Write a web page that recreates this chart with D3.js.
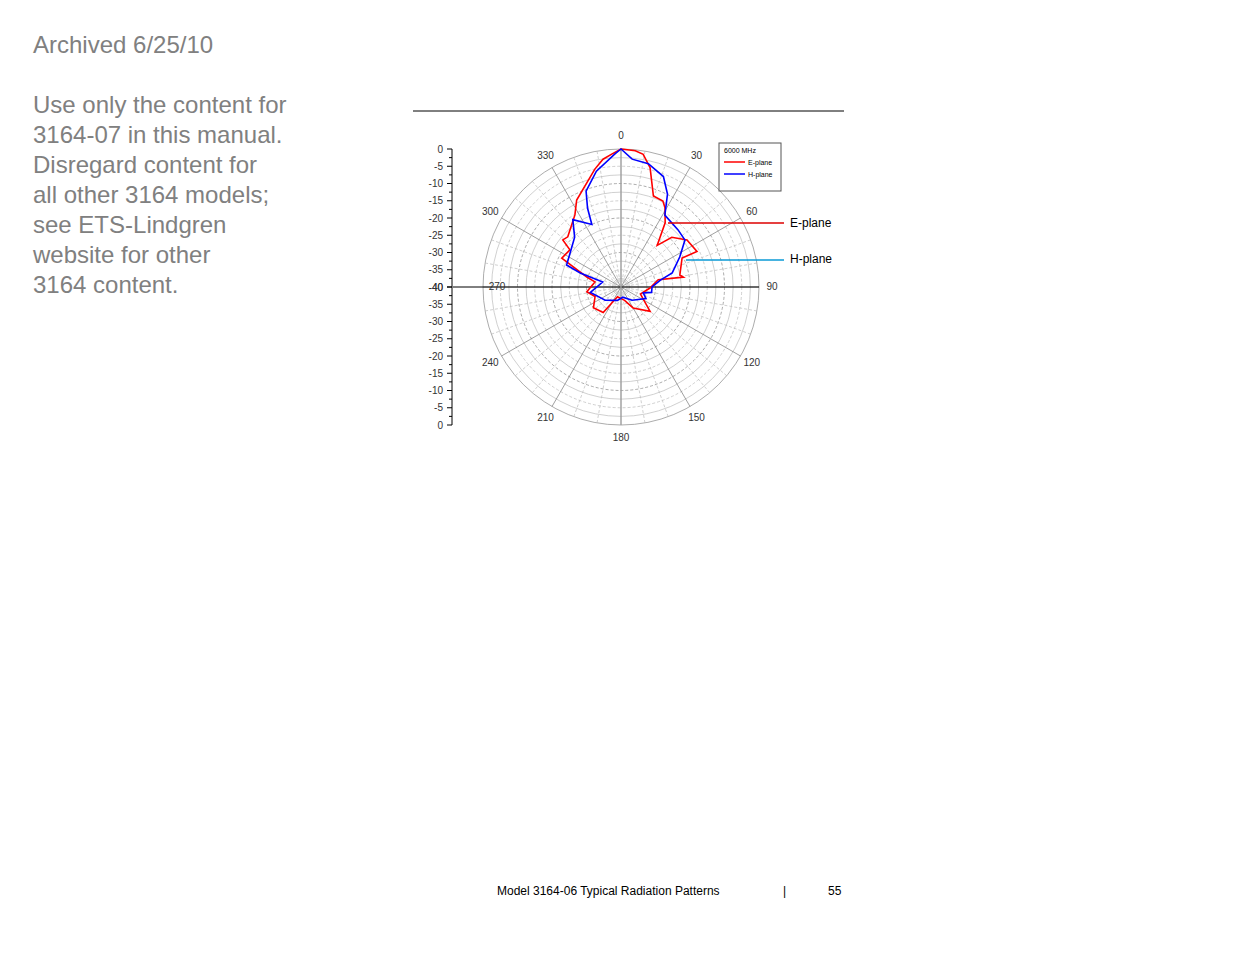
<!DOCTYPE html>
<html><head><meta charset="utf-8">
<script src="https://cdn.jsdelivr.net/npm/d3@7"></script>
<style>body{margin:0;background:#fff;font-family:"Liberation Sans",Arial,sans-serif}</style>
</head><body><svg id="c" width="1235" height="954"></svg>
<script>
const introLines=["Use only the content for","3164-07 in this manual.","Disregard content for","all other 3164 models;","see ETS-Lindgren","website for other","3164 content."];
const eAngles=[0,6,9.5,13.7,19.6,26,29,34.5,41,45.6,54.5,65,64.6,78.5,81,79,92,110,130,150,165,200,215,233,250,262,281,286,296,306,309,313.3,327.4,333,347.5,352,356];
const eDb=[0,-0.3,-1,-4.4,-12,-12.3,-13.7,-17.4,-24,-19.4,-16.5,-15.7,-20.4,-22.6,-21.7,-29,-31.6,-34,-29,-33,-36,-37,-31,-30,-32,-30,-32.3,-29.8,-20.9,-21.7,-18.3,-18.8,-15.2,-11.7,-5,-2.6,-1.4];
const hAngles=[0,5,12.5,21,26.6,31.4,45,53.7,63,74.6,80,90,100,105,115,140,170,195,230,260,285,289,292,317,324.4,335,337,340,348,357.4];
const hDb=[0,-2.8,-3.4,-5.7,-9.9,-15.6,-16.6,-17,-20.9,-24.6,-28.4,-31,-31,-33.3,-32,-35,-37,-36,-34,-31,-34.5,-27.5,-23,-20.3,-16,-20,-15.2,-10.4,-5.7,-1.4];
const dbTicks=[0,-5,-10,-15,-20,-25,-30,-35,-40];
const angTicks=[0,30,60,90,120,150,180,210,240,270,300,330];

const svg=d3.select("#c");
svg.append("text").attr("x",33).attr("y",53).attr("fill","#808080").attr("font-size",24).text("Archived 6/25/10");
introLines.forEach((t,i)=>svg.append("text").attr("x",33).attr("y",113+i*30).attr("fill","#808080").attr("font-size",24).text(t));
svg.append("line").attr("x1",413).attr("x2",844).attr("y1",111).attr("y2",111).attr("stroke","#000");
svg.append("text").attr("x",497).attr("y",895).attr("font-size",12).text("Model 3164-06 Typical Radiation Patterns");
svg.append("text").attr("x",783).attr("y",895).attr("font-size",12).text("|");
svg.append("text").attr("x",828).attr("y",895).attr("font-size",12).text("55");

const cx=621,cy=287,R=138;
const r=d3.scaleLinear().domain([-40,0]).range([0,R]);
const g=svg.append("g").attr("transform",`translate(${cx},${cy})`);
d3.range(-37.5,0.1,2.5).forEach(v=>g.append("circle").attr("r",r(v)).attr("fill","none")
  .attr("stroke",v%10===0?"#888":"#bbb").attr("stroke-width",0.7).attr("stroke-dasharray",v===0?null:(v%5===0?"3,2":null)));
d3.range(0,360,10).forEach(a=>{const t=a*Math.PI/180;
  g.append("line").attr("x1",0).attr("y1",0).attr("x2",R*Math.sin(t)).attr("y2",-R*Math.cos(t))
   .attr("stroke",a%30===0?"#777":"#bbb").attr("stroke-width",0.7).attr("stroke-dasharray",a%30===0?null:"3,2");});
g.append("line").attr("x1",-R-30).attr("x2",R).attr("y1",0).attr("y2",0).attr("stroke","#000").attr("stroke-width",1);
g.append("line").attr("x1",0).attr("x2",0).attr("y1",-R).attr("y2",R).attr("stroke","#aaa").attr("stroke-width",1.2);
angTicks.forEach(a=>{const t=a*Math.PI/180,rr=R+13;
  g.append("text").attr("x",(a===270?-R+14:rr*Math.sin(t))).attr("y",-rr*Math.cos(t)+3).attr("text-anchor","middle").attr("font-size",10).attr("fill","#333").text(a);});
// left axis
const ya=d3.scaleLinear().domain([0,-40]).range([cy-R,cy]);
const yb=d3.scaleLinear().domain([-40,0]).range([cy,cy+R]);
const ax=svg.append("g");
ax.append("line").attr("x1",452).attr("x2",452).attr("y1",cy-R).attr("y2",cy+R).attr("stroke","#000");
dbTicks.forEach(v=>{[ya(v),yb(v)].forEach(y=>{
  ax.append("line").attr("x1",447).attr("x2",452).attr("y1",y).attr("y2",y).attr("stroke","#000");
  ax.append("text").attr("x",443).attr("y",y+3.5).attr("text-anchor","end").attr("font-size",10).attr("fill","#333").text(v);});});
d3.range(-37.5,0,5).forEach(v=>[ya(v),yb(v)].forEach(y=>ax.append("line").attr("x1",449).attr("x2",452).attr("y1",y).attr("y2",y).attr("stroke","#000")));
const line=d3.lineRadial().angle(d=>d[0]*Math.PI/180).radius(d=>r(d[1])).curve(d3.curveLinearClosed);
g.append("path").attr("d",line(eAngles.map((a,i)=>[a,eDb[i]]))).attr("fill","none").attr("stroke","#f00").attr("stroke-width",1.6);
g.append("path").attr("d",line(hAngles.map((a,i)=>[a,hDb[i]]))).attr("fill","none").attr("stroke","#00f").attr("stroke-width",1.6);
// legend
svg.append("rect").attr("x",719).attr("y",143).attr("width",62).attr("height",48).attr("fill","#fff").attr("stroke","#555");
svg.append("text").attr("x",724).attr("y",153).attr("font-size",7).text("6000 MHz");
[["E-plane","#f00",162],["H-plane","#00f",174]].forEach(([t,c,y])=>{
  svg.append("line").attr("x1",724).attr("x2",745).attr("y1",y).attr("y2",y).attr("stroke",c).attr("stroke-width",1.5);
  svg.append("text").attr("x",748).attr("y",y+2.5).attr("font-size",7).text(t);});
svg.append("line").attr("x1",668).attr("x2",784).attr("y1",223).attr("y2",223).attr("stroke","#d00").attr("stroke-width",1.5);
svg.append("text").attr("x",790).attr("y",227).attr("font-size",12).text("E-plane");
svg.append("line").attr("x1",686).attr("x2",784).attr("y1",260).attr("y2",260).attr("stroke","#0a9ad6").attr("stroke-width",1.5);
svg.append("text").attr("x",790).attr("y",263).attr("font-size",12).text("H-plane");
</script></body></html>
